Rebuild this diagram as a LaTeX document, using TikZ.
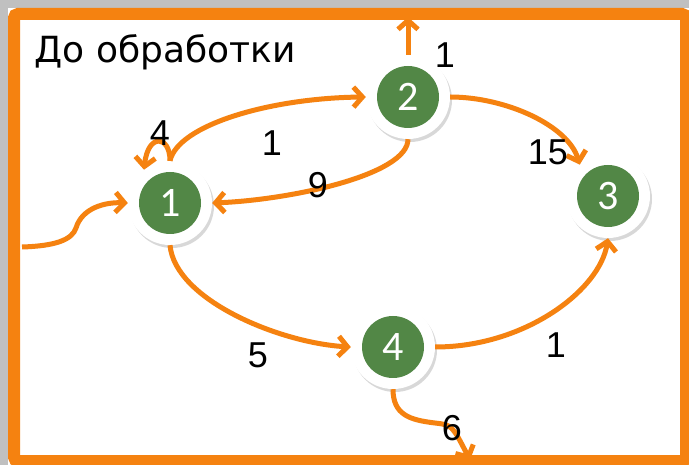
\documentclass[tikz,border=0pt]{standalone}
\usepackage{fontspec}
\setmainfont{Liberation Sans}
\newfontfamily\vertfont{Carlito}
\newfontfamily\titlefont{DejaVu Sans}
\usetikzlibrary{arrows.meta, shadows}
\definecolor{arcorange}{RGB}{245,130,16}
\definecolor{vertgreen}{RGB}{82,135,70}
\definecolor{bggray}{RGB}{192,192,192}

\begin{document}
\begin{tikzpicture}[x=1pt,y=-1pt,>={Straight Barb[length=9pt,width=20pt]},
    vert/.style={circle, fill=white, minimum size=84pt, inner sep=0pt, text=white,
      font=\vertfont\fontsize{42}{42}\selectfont,
      drop shadow={shadow xshift=2pt, shadow yshift=-3pt, opacity=0.3},
      path picture={\fill[vertgreen] (path picture bounding box.center) circle (31pt);}},
    flow/.style={draw=arcorange, line width=5pt, ->},
    wlabel/.style={font=\fontsize{36}{36}\selectfont}]
        \clip (0,0) rectangle (689,465);
        \fill[bggray] (0,0) rectangle (689,465);
        \fill[white] (8,8) rectangle (689,465);
        \draw[arcorange, line width=12pt, rounded corners=4pt] (14,14) rectangle (686,461);
        \node[anchor=base west, font=\titlefont\fontsize{36}{36}\selectfont] (title) at (31,63) {До обработки};
        \node[vert] (v1) at (170,203) {1};
        \node[vert] (v2) at (408,97) {2};
        \node[vert] (v3) at (608,196) {3};
        \node[vert] (v4) at (393,347) {4};
        \coordinate (in) at (22,247);
        \coordinate (out2) at (408,17);
        \coordinate (out4) at (470,460);
        \draw[flow] (in) .. controls (55,246) and (72,240) .. (76,228) .. controls (82,208) and (105,202) .. (v1.west);
        \draw[flow] (v1.north) .. controls (170,135) and (148,133) .. (v1.128);
        \draw[flow] (v1.north) .. controls (178,125) and (270,98) .. (v2.west);
        \draw[flow] (v2.south) .. controls (408,175) and (290,200) .. (v1.east);
        \draw[flow] (v2.east) .. controls (505,97) and (568,125) .. (v3.132);
        \draw[flow] (v2.north) -- (out2);
        \draw[flow] (v1.south) .. controls (175,300) and (280,343) .. (v4.west);
        \draw[flow] (v4.east) .. controls (525,347) and (600,290) .. (v3.south);
        \draw[flow] (v4.south) .. controls (393,415) and (410,420) .. (435,423) .. controls (452,425) .. (out4);
        \node[wlabel] (w2) at (445,55) {1};
        \node[wlabel] (w11) at (160,133) {4};
        \node[wlabel] (w12) at (272,143) {1};
        \node[wlabel] (w21) at (318,185) {9};
        \node[wlabel] (w23) at (548,152) {15};
        \node[wlabel] (w14) at (258,355) {5};
        \node[wlabel] (w43) at (556,345) {1};
        \node[wlabel] (w4) at (452,428) {6};
    \end{tikzpicture}
\end{document}
